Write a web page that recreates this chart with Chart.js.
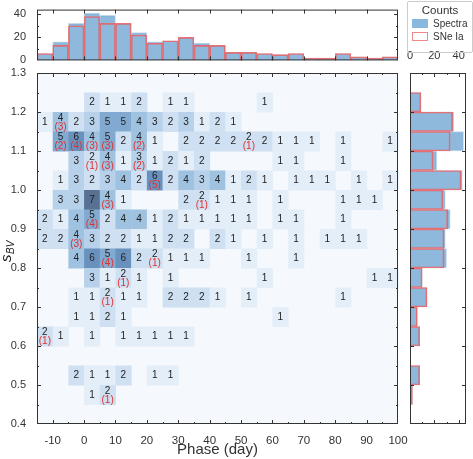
<!DOCTYPE html>
<html>
<head>
<meta charset="utf-8">
<script src="https://cdn.jsdelivr.net/npm/chart.js@4"></script>
<style>
  body { margin: 0; width: 473px; height: 459px; background: #fff; position: relative; overflow: hidden; font-family: "Liberation Sans", Arial, sans-serif; }
  canvas { position: absolute; }
  #legend { position: absolute; left: 407px; top: 1px; width: 64px; height: 50px; border: 1px solid #ccc; border-radius: 2px; font-size: 10px; color: #333; }
  #legend .t { text-align: center; font-size: 11.5px; margin-top: 2px; }
  #legend .row { display: flex; align-items: center; margin: 2px 0 0 4px; }
  #legend .sw { width: 16px; height: 9px; margin-right: 5px; box-sizing: border-box; }
</style>
</head>
<body>
<canvas id="main" style="left:0;top:0" width="410" height="459"></canvas>
<canvas id="top" style="left:0;top:0" width="410" height="70"></canvas>
<canvas id="side" style="left:400px;top:50px" width="73" height="409"></canvas>
<div id="legend">
  <div class="t">Counts</div>
  <div class="row"><div class="sw" style="background:#8ab8dc"></div>Spectra</div>
  <div class="row"><div class="sw" style="border:1px solid #f08a8a"></div>SNe Ia</div>
</div>
<script>
// phase bins: left edges, 5 days wide
const phaseEdges = [-15,-10,-5,0,5,10,15,20,25,30,35,40,45,50,55,60,65,70,75,80,85,90,95];
// sBV bins: centres, 0.05 wide (top to bottom)
const sbvCenters = [1.225,1.175,1.125,1.075,1.025,0.975,0.925,0.875,0.825,0.775,0.725,0.675,0.625,0.575,0.525,0.475];

// spectra counts per cell, one row per sBV bin
const spectraGrid = [
  [0,0,0,2,1,1,2,0,1,1,0,0,0,0,1,0,0,0,0,0,0,0,0],
  [1,4,2,3,5,5,4,3,2,3,1,2,1,0,0,0,0,0,0,0,0,0,0],
  [0,5,6,4,5,2,4,1,0,2,2,2,2,2,2,1,1,1,0,1,0,0,1],
  [0,0,3,2,4,1,3,1,2,1,2,0,0,0,0,1,1,0,0,1,0,0,0],
  [0,1,3,2,3,4,2,6,2,4,3,4,1,2,1,0,1,1,1,0,1,0,1],
  [0,3,3,7,4,1,0,0,0,2,2,1,1,1,0,1,0,0,0,1,1,1,0],
  [2,1,4,5,2,4,4,1,2,1,1,1,1,1,0,1,1,0,0,1,0,0,0],
  [2,2,4,3,2,2,1,1,2,2,0,2,1,0,1,0,1,0,1,1,1,0,0],
  [0,0,4,6,5,6,2,2,1,1,1,0,0,1,0,0,1,0,0,0,0,0,0],
  [0,0,0,3,1,2,1,0,1,0,0,0,0,0,1,0,0,0,0,0,0,1,1],
  [0,0,1,1,2,1,1,0,2,2,2,1,0,1,0,0,0,0,0,1,0,0,0],
  [0,0,1,1,2,1,0,0,0,0,0,0,0,0,0,1,0,0,0,0,0,0,0],
  [2,1,0,1,0,1,1,1,1,1,0,0,0,0,0,0,0,0,0,0,0,0,0],
  [0,0,0,0,0,0,0,0,0,0,0,0,0,0,0,0,0,0,0,0,0,0,0],
  [0,0,2,1,1,2,0,1,1,0,0,0,0,0,0,0,0,0,0,0,0,0,0],
  [0,0,0,1,2,0,0,0,0,0,0,0,0,0,0,0,0,0,0,0,0,0,0]
];
// SNe Ia counts shown in red: [phase bin index, sBV row index, count]
const sneLabels = [
  [1,1,3],[1,2,2],[2,2,4],[3,2,3],[4,2,3],[6,2,2],[13,2,1],
  [3,3,1],[4,3,3],[6,3,2],[7,4,5],[4,5,3],[10,5,1],[3,6,4],
  [2,7,3],[4,8,4],[7,8,1],[5,9,1],[4,10,1],[0,12,1],[4,15,1]
];

// marginal histograms
const phaseSpectra = [6,16,32,41,39,32,24,16,17,20,15,13,7,7,6,5,6,2,2,6,3,2,3];
const phaseSNe     = [6,13,30,38,32,32,22,15,17,20,13,13,7,7,6,5,6,2,2,6,3,2,3];
const sbvSpectra   = [9,36,44,22,43,29,33,29,30,10,14,6,8,0,8,2];
const sbvSNe       = [9,35,33,19,42,27,31,28,28,10,14,6,8,0,8,2];

const xTicks = [-10,0,10,20,30,40,50,60,70,80,90,100];
const yTicks = [0.4,0.5,0.6,0.7,0.8,0.9,1.0,1.1,1.2,1.3];

const FONT = '"Liberation Sans", Arial, sans-serif';
Chart.defaults.font.family = FONT;
Chart.defaults.color = '#333';
Chart.defaults.animation = false;

const stops = [[0,[245,249,253]],[1,[228,238,248]],[2,[206,224,241]],[4,[158,194,224]],[5,[130,170,208]],[6,[105,145,190]],[7,[88,112,146]]];
function cellColor(v) {
  for (let i = 1; i < stops.length; i++) {
    if (v <= stops[i][0]) {
      const [a, ca] = stops[i-1], [b, cb] = stops[i];
      const t = (v - a) / (b - a);
      return 'rgb(' + ca.map((c, k) => Math.round(c + (cb[k] - c) * t)).join(',') + ')';
    }
  }
  return 'rgb(88,112,146)';
}

// inward ticks and frame, positions in pixels
function frameTicks(ctx, ca, xMajor, xMinor, yMajor, yMinor) {
  ctx.save();
  ctx.strokeStyle = '#333';
  ctx.lineWidth = 1;
  const tx = (vals, len) => vals.forEach(p => {
    const px = Math.round(p) + 0.5;
    if (px < ca.left || px > ca.right) return;
    ctx.beginPath();
    ctx.moveTo(px, ca.bottom); ctx.lineTo(px, ca.bottom - len);
    ctx.moveTo(px, ca.top); ctx.lineTo(px, ca.top + len);
    ctx.stroke();
  });
  const ty = (vals, len) => vals.forEach(p => {
    const py = Math.round(p) + 0.5;
    if (py < ca.top || py > ca.bottom) return;
    ctx.beginPath();
    ctx.moveTo(ca.left, py); ctx.lineTo(ca.left + len, py);
    ctx.moveTo(ca.right, py); ctx.lineTo(ca.right - len, py);
    ctx.stroke();
  });
  tx(xMajor, 4); tx(xMinor, 2); ty(yMajor, 4); ty(yMinor, 2);
  ctx.strokeRect(ca.left + 0.5, ca.top + 0.5, ca.right - ca.left - 1, ca.bottom - ca.top - 1);
  ctx.restore();
}

function linPix(v, min, max, a, b) { return a + (v - min) / (max - min) * (b - a); }

const heatPlugin = {
  id: 'heat',
  beforeDatasetsDraw(chart) {
    const { ctx, chartArea: ca, scales: { x, y } } = chart;
    ctx.save();
    ctx.fillStyle = cellColor(0);
    ctx.fillRect(ca.left, ca.top, ca.right - ca.left, ca.bottom - ca.top);
    spectraGrid.forEach((row, r) => row.forEach((v, c) => {
      if (!v) return;
      const x0 = x.getPixelForValue(phaseEdges[c]), x1 = x.getPixelForValue(phaseEdges[c] + 5);
      const y0 = y.getPixelForValue(sbvCenters[r] + 0.025), y1 = y.getPixelForValue(sbvCenters[r] - 0.025);
      ctx.fillStyle = cellColor(v);
      ctx.fillRect(x0, y0, x1 - x0 + 0.5, y1 - y0 + 0.5);
    }));
    ctx.textAlign = 'center';
    ctx.textBaseline = 'middle';
    spectraGrid.forEach((row, r) => row.forEach((v, c) => {
      if (!v) return;
      const cx = x.getPixelForValue(phaseEdges[c] + 2.5), cy = y.getPixelForValue(sbvCenters[r]);
      const red = sneLabels.find(s => s[0] === c && s[1] === r);
      ctx.font = '10px ' + FONT;
      ctx.fillStyle = '#222';
      ctx.fillText(String(v), cx, red ? cy - 4 : cy);
      if (red) {
        ctx.fillStyle = '#e03030';
        ctx.fillText('(' + red[2] + ')', cx, cy + 5);
      }
    }));
    ctx.restore();
  },
  afterDraw(chart) {
    const { ctx, chartArea, scales: { x, y } } = chart;
    const xm = phaseEdges.concat([100]).filter(v => v % 10 !== 0);
    const ym = sbvCenters.map(v => +(v - 0.025).toFixed(3)).concat([1.25]).filter(v => Math.round(v * 100) % 10 !== 0);
    frameTicks(ctx, chartArea, xTicks.map(v => x.getPixelForValue(v)), xm.map(v => x.getPixelForValue(v)),
      yTicks.map(v => y.getPixelForValue(v)), ym.map(v => y.getPixelForValue(v)));
  }
};

new Chart(document.getElementById('main'), {
  type: 'scatter',
  data: { datasets: [{ data: [] }] },
  options: {
    responsive: false,
    layout: { padding: { top: 73, right: 12, left: 0, bottom: 0 } },
    plugins: { legend: { display: false }, tooltip: { enabled: false } },
    scales: {
      x: {
        type: 'linear', min: -15, max: 100,
        afterBuildTicks: s => { s.ticks = xTicks.map(v => ({ value: v })); },
        afterFit: s => { s.height = 35; },
        grid: { display: false }, border: { display: false },
        ticks: { font: { size: 11.5 }, padding: 2, maxRotation: 0 },
        title: { display: true, text: 'Phase (day)', font: { size: 15 }, padding: 0 }
      },
      y: {
        type: 'linear', min: 0.4, max: 1.3,
        afterBuildTicks: s => { s.ticks = yTicks.map(v => ({ value: v })); },
        afterFit: s => { s.width = 37; },
        grid: { display: false }, border: { display: false },
        ticks: { font: { size: 11 }, padding: 3, callback: v => v.toFixed(1) },
        title: { display: false }
      }
    }
  },
  plugins: [heatPlugin, {
    id: 'ylabel',
    afterDraw(chart) {
      const ctx = chart.ctx;
      ctx.save();
      ctx.translate(7, 250);
      ctx.rotate(-Math.PI / 2);
      ctx.fillStyle = '#222';
      ctx.textBaseline = 'middle';
      ctx.font = 'italic 15px ' + FONT;
      ctx.fillText('s', -12, 0);
      ctx.font = 'italic 10px ' + FONT;
      ctx.fillText('BV', -4, 4);
      ctx.restore();
    }
  }]
});

const histFill = 'rgba(110,165,210,0.78)';
const histEdge = 'rgba(240,90,90,0.8)';
const phaseLabels = phaseEdges.map(String);
// one empty bin above and below so the category axis spans 0.4..1.3
const sbvLabels = ['1.275'].concat(sbvCenters.map(String), ['0.425']);
const pad = arr => [null].concat(arr, [null]);

new Chart(document.getElementById('top'), {
  type: 'bar',
  data: {
    labels: phaseLabels,
    datasets: [
      { data: phaseSpectra, backgroundColor: histFill, borderColor: 'rgba(190,215,235,0.9)', borderWidth: 1, order: 2 },
      { data: phaseSNe, backgroundColor: 'rgba(0,0,0,0)', borderColor: histEdge, borderWidth: 1, order: 1 }
    ]
  },
  options: {
    responsive: false,
    layout: { padding: { top: 5, right: 12, left: 0, bottom: 9 } },
    plugins: { legend: { display: false }, tooltip: { enabled: false } },
    datasets: { bar: { grouped: false, barPercentage: 1, categoryPercentage: 1 } },
    scales: {
      x: { type: 'category', offset: true, display: false },
      y: {
        min: 0, max: 44,
        afterBuildTicks: s => { s.ticks = [0, 20, 40].map(v => ({ value: v })); },
        afterFit: s => { s.width = 37; },
        grid: { display: false }, border: { display: false },
        ticks: { font: { size: 11 }, padding: 3 }
      }
    }
  },
  plugins: [{
    id: 'frameTop',
    afterDraw(chart) {
      const { ctx, chartArea: ca, scales: { y } } = chart;
      const xp = xTicks.map(v => linPix(v, -15, 100, ca.left, ca.right));
      frameTicks(ctx, ca, xp, [], [0, 20, 40].map(v => y.getPixelForValue(v)), [10, 30].map(v => y.getPixelForValue(v)));
    }
  }]
});

new Chart(document.getElementById('side'), {
  type: 'bar',
  data: {
    labels: sbvLabels,
    datasets: [
      { data: pad(sbvSpectra), backgroundColor: histFill, borderColor: 'rgba(190,215,235,0.9)', borderWidth: 1, order: 2 },
      { data: pad(sbvSNe), backgroundColor: 'rgba(0,0,0,0)', borderColor: histEdge, borderWidth: 1, order: 1 }
    ]
  },
  options: {
    responsive: false,
    indexAxis: 'y',
    layout: { padding: { top: 0, right: 7, left: 10, bottom: 35 } },
    plugins: { legend: { display: false }, tooltip: { enabled: false } },
    datasets: { bar: { grouped: false, barPercentage: 1, categoryPercentage: 1 } },
    scales: {
      y: { type: 'category', offset: true, display: false },
      x: {
        position: 'top', min: 0, max: 46,
        afterBuildTicks: s => { s.ticks = [0, 20, 40].map(v => ({ value: v })); },
        afterFit: s => { s.height = 23; },
        grid: { display: false }, border: { display: false },
        ticks: { font: { size: 11 }, padding: 2, maxRotation: 0 }
      }
    }
  },
  plugins: [{
    id: 'frameSide',
    afterDraw(chart) {
      const { ctx, chartArea: ca, scales: { x } } = chart;
      const yp = yTicks.map(v => linPix(v, 1.3, 0.4, ca.top, ca.bottom));
      frameTicks(ctx, ca, [0, 20, 40].map(v => x.getPixelForValue(v)), [10, 30].map(v => x.getPixelForValue(v)), yp, []);
    }
  }]
});
</script>
</body>
</html>
